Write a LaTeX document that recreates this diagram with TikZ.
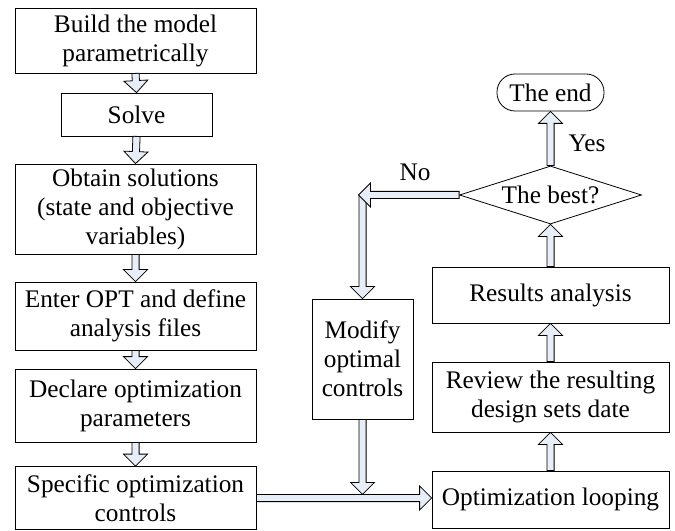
\documentclass[tikz,border=0pt]{standalone}
\usepackage{fontspec}
\setmainfont{Liberation Serif}
\usetikzlibrary{shapes.geometric, calc}
\definecolor{arrowfill}{RGB}{232, 238, 248}

% hollow block arrow from #1 to #2
\newcommand{\blockarrow}[2]{%
  \coordinate (ba-s) at #1;
  \coordinate (ba-e) at #2;
  \coordinate (ba-h) at ($(ba-e)!12bp!(ba-s)$);
  \filldraw[blockarrow] ($(ba-s)!3.6bp!90:(ba-e)$) -- ($(ba-h)!3.6bp!90:(ba-e)$)
    -- ($(ba-h)!12bp!90:(ba-e)$) -- (ba-e) -- ($(ba-h)!12bp!-90:(ba-e)$)
    -- ($(ba-h)!3.6bp!-90:(ba-e)$) -- ($(ba-s)!3.6bp!-90:(ba-e)$) -- cycle;
}

\begin{document}
\begin{tikzpicture}[
    x=1bp, y=-1bp,
    font=\fontsize{25.3bp}{29bp}\selectfont,
    box/.style={rectangle, draw, line width=0.8bp, align=center, inner sep=2bp},
    decision/.style={diamond, draw, line width=0.8bp, aspect=3.14, inner sep=1bp, minimum width=182bp, minimum height=58bp},
    terminal/.style={rectangle, draw, line width=0.8bp, rounded corners=18bp, minimum width=107bp, minimum height=37bp},
    blockarrow/.style={draw=black, fill=arrowfill, line width=0.8bp, line join=miter}
]
    \useasboundingbox (0,0) rectangle (675,531);

    % Left column
    \node[box, minimum width=241bp, minimum height=65bp] (build) at (135.5, 40.5) {Build the model\\parametrically};
    \node[box, minimum width=151bp, minimum height=43bp] (solve) at (136.5, 114.5) {Solve};
    \node[box, minimum width=241bp, minimum height=90bp] (obtain) at (135.5, 209) {Obtain solutions\\(state and objective\\variables)};
    \node[box, minimum width=241bp, minimum height=68bp] (enter) at (135.5, 316) {Enter OPT and define\\analysis files};
    \node[box, minimum width=241bp, minimum height=73bp] (declare) at (135.5, 405.5) {Declare optimization\\parameters};
    \node[box, minimum width=241bp, minimum height=63bp] (specific) at (135.5, 498) {Specific optimization\\controls};

    % Middle and right column
    \node[box, minimum width=101bp, minimum height=120bp] (modify) at (362.5, 359) {Modify\\optimal\\controls};
    \node[box, minimum width=237bp, minimum height=57bp] (looping) at (550.5, 499.5) {Optimization looping};
    \node[box, minimum width=237bp, minimum height=70bp] (review) at (550.5, 397) {Review the resulting\\design sets date};
    \node[box, minimum width=237bp, minimum height=56bp] (results) at (550.5, 295) {Results analysis};
    \node[decision] (best) at (550.5, 195) {The best?};
    \node[terminal] (end) at (550.5, 92.5) {The end};

    \node (yes) at (587, 143.5) {Yes};
    \node (no) at (415, 172) {No};

    % Connectors
    \blockarrow{(build.south)}{(solve.north)}
    \blockarrow{(solve.south)}{(obtain.north)}
    \blockarrow{(obtain.south)}{(enter.north)}
    \blockarrow{(enter.south)}{(declare.north)}
    \blockarrow{(declare.south)}{(specific.north)}

    \blockarrow{(specific.east)}{(specific.east -| looping.west)}
    \coordinate (merge) at ($(modify.south |- specific.east)+(0,-3.6)$);
    \blockarrow{(modify.south)}{(merge)}

    \blockarrow{(looping.north)}{(review.south)}
    \blockarrow{(review.north)}{(results.south)}
    \blockarrow{(results.north)}{(best.south)}
    \blockarrow{(best.north)}{(end.south)}

    \coordinate (corner) at (modify.north |- best.west);
    \blockarrow{(corner)}{(modify.north)}
    \blockarrow{(best.west)}{($(corner)+(-4,0)$)}

\end{tikzpicture}
\end{document}
